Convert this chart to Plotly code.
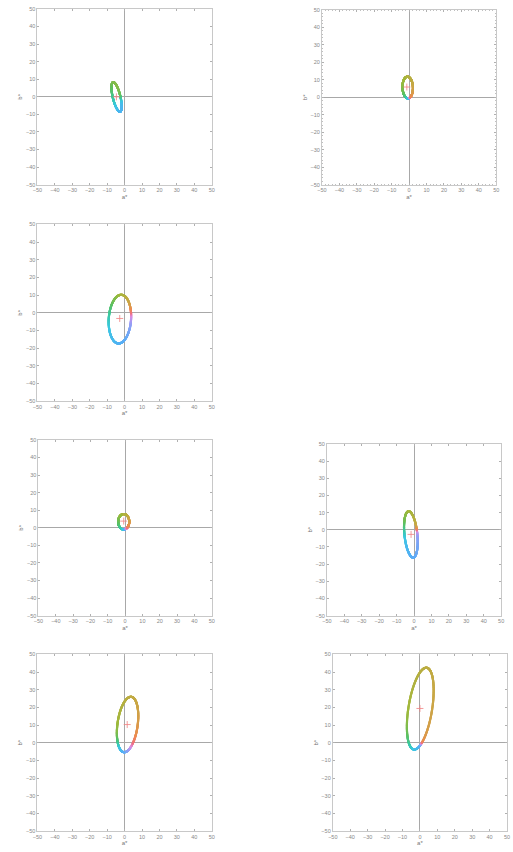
import numpy as np
import plotly.graph_objects as go

# Chromaticity ellipses in the a*b* plane, one per panel
center_a   = [-4.6, -0.8, -2.7, -0.8, -1.8, 1.7, 0.2]
center_b   = [-0.1, 5.6, -3.6, 3.4, -2.75, 10.3, 19.3]
semi_major = [8.6, 6.2, 13.8, 4.4, 13.5, 15.8, 23.4]
semi_minor = [2.2, 3.0, 6.4, 3.2, 3.7, 5.8, 6.8]
tilt_deg   = [103.5, 92.0, 86.1, 90.0, 95.8, 82.1, 80.8]

# Mean colour of each set (red cross)
mean_a = [-4.7, -1.3, -2.8, -0.8, -1.7, 1.5, 0.0]
mean_b = [0.0, 5.9, -3.2, 3.8, -2.7, 10.3, 19.4]

tick_values = [-50, -40, -30, -20, -10, 0, 10, 20, 30, 40, 50]

# Panel boxes in pixels: (left, right, top, bottom)
W, H = 513, 852
boxes = [
    (33, 210, 6, 183),
    (322, 499, 7, 183),
    (33, 210, 223, 401),
    (34, 210, 440, 617),
    (327, 504, 444, 617),
    (33, 210, 656, 834),
    (333, 510, 656, 834),
]

# Hue wheel used to colour each point by its own hue angle
hue_stops = [
    (0, (240, 112, 130)),
    (35, (236, 140, 80)),
    (75, (200, 168, 70)),
    (110, (160, 185, 60)),
    (150, (95, 192, 95)),
    (190, (60, 200, 160)),
    (225, (60, 200, 225)),
    (265, (85, 175, 245)),
    (305, (160, 155, 245)),
    (335, (220, 140, 225)),
    (360, (240, 112, 130)),
]


def hue_color(a, b):
    h = np.degrees(np.arctan2(b, a)) % 360
    for (h0, c0), (h1, c1) in zip(hue_stops[:-1], hue_stops[1:]):
        if h0 <= h <= h1:
            t = (h - h0) / (h1 - h0)
            r, g, bl = [int(round(c0[i] + t * (c1[i] - c0[i]))) for i in range(3)]
            return f"rgb({r},{g},{bl})"
    return "rgb(240,112,130)"


fig = go.Figure()
theta = np.linspace(0, 2 * np.pi, 500)

for i, (l, r, t, btm) in enumerate(boxes):
    n = i + 1
    xa = "x" if n == 1 else f"x{n}"
    ya = "y" if n == 1 else f"y{n}"
    phi = np.radians(tilt_deg[i])
    u = semi_major[i] * np.cos(theta)
    v = semi_minor[i] * np.sin(theta)
    ea = center_a[i] + u * np.cos(phi) - v * np.sin(phi)
    eb = center_b[i] + u * np.sin(phi) + v * np.cos(phi)
    cols = [hue_color(p, q) for p, q in zip(ea, eb)]
    fig.add_trace(go.Scatter(
        x=ea, y=eb, mode="markers", xaxis=xa, yaxis=ya,
        marker=dict(size=2.3, color=cols, line=dict(width=0)),
        showlegend=False, hoverinfo="skip"))
    fig.add_trace(go.Scatter(
        x=[mean_a[i]], y=[mean_b[i]], mode="markers", xaxis=xa, yaxis=ya,
        marker=dict(symbol="cross-thin", size=5, line=dict(width=0.8, color="#f08080")),
        showlegend=False, hoverinfo="skip"))

    common = dict(
        range=[-50, 50], tickvals=tick_values, ticks="inside", ticklen=2,
        tickcolor="#b0b0b0", tickwidth=0.8, showline=True, linecolor="#c8c8c8",
        linewidth=1, mirror="ticks", showgrid=False, zeroline=True,
        zerolinecolor="#a8a8a8", zerolinewidth=1.4,
        tickfont=dict(size=5.5, color="#888888", family="Liberation Sans"),
        fixedrange=True,
    )
    if n == 2:
        common["minor"] = dict(ticks="inside", dtick=2, ticklen=1.2,
                               tickcolor="#c0c0c0")
    xkey = "xaxis" if n == 1 else f"xaxis{n}"
    ykey = "yaxis" if n == 1 else f"yaxis{n}"
    fig.update_layout({
        xkey: dict(common, domain=[l / W, r / W], anchor=ya,
                   title=dict(text="a*", standoff=2,
                              font=dict(size=6, color="#777777", family="Liberation Sans"))),
        ykey: dict(common, domain=[1 - btm / H, 1 - t / H], anchor=xa,
                   title=dict(text="b*", standoff=2,
                              font=dict(size=6, color="#777777", family="Liberation Sans"))),
    })

fig.update_layout(
    width=W, height=H, margin=dict(l=0, r=0, t=0, b=0),
    paper_bgcolor="white", plot_bgcolor="white",
)

fig.write_html("out.html")
